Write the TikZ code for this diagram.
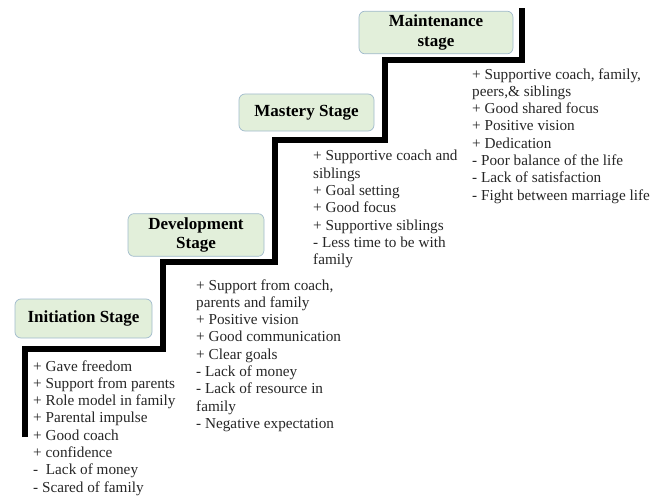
\documentclass[tikz,border=0pt]{standalone}
\usepackage{fontspec}
\setmainfont{Liberation Serif}
\usetikzlibrary{calc,positioning}
\tikzset{
    %Define stage box style
    stagebox/.style={fill=stagefill, draw=stageline, semithick, rounded corners=0.18cm, align=center, font=\fontsize{14.5}{16.5}\selectfont\bfseries},
    factors/.style={anchor=north west, inner sep=0pt, align=left, text=factortext, font=\fontsize{13}{14.76}\selectfont}
}
\definecolor{stagefill}{RGB}{226,239,218}
\definecolor{stageline}{RGB}{160,186,204}
\definecolor{factortext}{RGB}{38,38,38}

\begin{document}
\begin{tikzpicture}

	\useasboundingbox (0,0) rectangle (19.83,14.91);

	\draw[line width=4.3pt, miter limit=10] (0.75,1.80)--(0.75,4.44)--(4.89,4.44)--(4.89,7.05)--(8.25,7.05)--(8.25,10.71)--(11.55,10.71)--(11.55,13.11)--(15.66,13.11)--(15.66,14.67);

	\node (initiation) at (2.505, 5.355) [stagebox, minimum width=4.11cm, minimum height=1.17cm] {Initiation Stage};
	\node (development) at (5.88, 7.86) [stagebox, minimum width=4.08cm, minimum height=1.2cm] {Development\\Stage};
	\node (mastery) at (9.195, 11.535) [stagebox, minimum width=4.05cm, minimum height=1.11cm] {Mastery Stage};
	\node (maintenance) at (13.08, 13.935) [stagebox, minimum width=4.62cm, minimum height=1.17cm] {Maintenance\\stage};

	\node (initfactors) at (0.99, 4.108) [factors] {+ Gave freedom\\+ Support from parents\\+ Role model in family\\+ Parental impulse\\+ Good coach\\+ confidence\\-\ \ Lack of money\\- Scared of family};
	\node (devfactors) at (5.88, 6.538) [factors] {+ Support from coach,\\parents and family\\+ Positive vision\\+ Good communication\\+ Clear goals\\- Lack of money\\- Lack of resource in\\family\\- Negative expectation};
	\node (masteryfactors) at (9.39, 10.408) [factors] {+ Supportive coach and\\siblings\\+ Goal setting\\+ Good focus\\+ Supportive siblings\\- Less time to be with\\family};
	\node (maintfactors) at (14.16, 12.868) [factors] {+ Supportive coach, family,\\peers,\& siblings\\+ Good shared focus\\+ Positive vision\\+ Dedication\\- Poor balance of the life\\- Lack of satisfaction\\- Fight between marriage life};

\end{tikzpicture}
\end{document}
